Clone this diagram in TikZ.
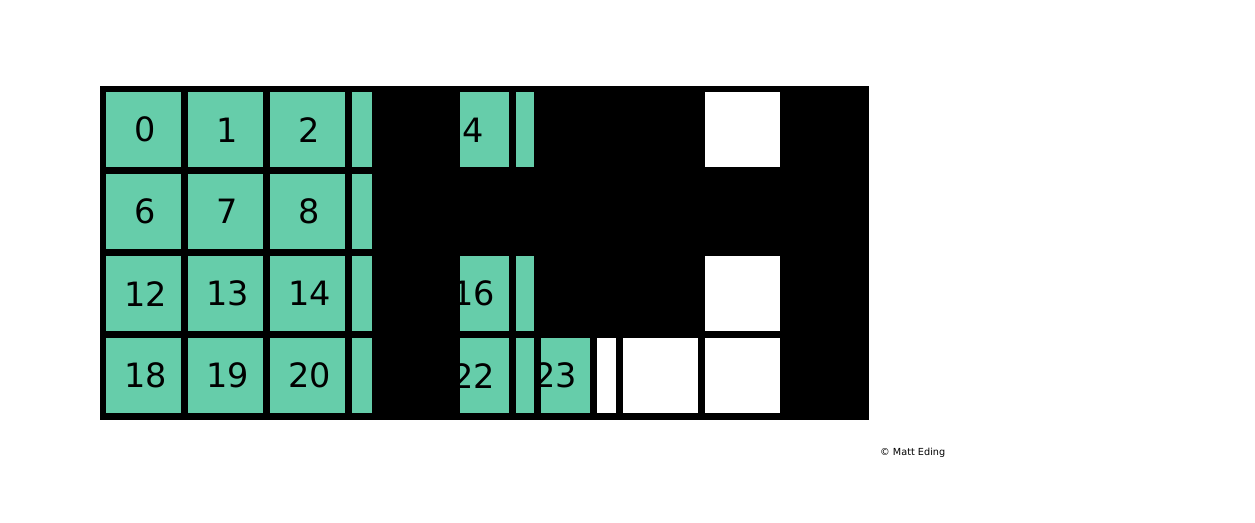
\documentclass[tikz,border=0pt]{standalone}
\usepackage{fontspec}
\setmainfont{DejaVu Sans}
\definecolor{aqua}{RGB}{102,205,170}
\begin{document}
\begin{tikzpicture}[x=1pt,y=-1pt,
  greencell/.style={fill=aqua},
  whitecell/.style={fill=white},
  num/.style={font=\fontsize{33.5}{40}\selectfont, inner sep=0pt, text=black},
  credit/.style={font=\fontsize{9.7}{11}\selectfont, inner sep=0pt, anchor=base west, text=black}]
\useasboundingbox (0,0) rectangle (1255,522);
\fill[white] (0,0) rectangle (1255,522);
\fill[black] (99.5,86) rectangle (868.5,419.5);
% rows: top/bottom
\foreach \t/\b in {92.3/167.3, 173.6/249, 255.6/330.8, 337.6/413}{
  \fill[greencell] (105.5,\t) rectangle (181,\b);
  \fill[greencell] (187.5,\t) rectangle (263.3,\b);
  \fill[greencell] (269.5,\t) rectangle (345,\b);
  \fill[greencell] (351.5,\t) rectangle (371.6,\b);
}
% rows 0, 2, 3: cells of column 4 and narrow column 5
\foreach \t/\b in {92.3/167.3, 255.6/330.8, 337.6/413}{
  \fill[greencell] (460,\t) rectangle (509.3,\b);
  \fill[greencell] (515.6,\t) rectangle (534,\b);
  \fill[whitecell] (705,\t) rectangle (780,\b);
}
% row 3 extras
\fill[greencell] (540.5,337.6) rectangle (590.3,413);
\fill[whitecell] (596.7,337.6) rectangle (616,413);
\fill[whitecell] (622.7,337.6) rectangle (698.3,413);
% numbers
\node[num] (n0)  at (145,129.8) {0};
\node[num] (n1)  at (227,129.8) {1};
\node[num] (n2)  at (309,129.8) {2};
\node[num] (n4)  at (473,129.8) {4};
\node[num] (n6)  at (145,211.3) {6};
\node[num] (n7)  at (227,211.3) {7};
\node[num] (n8)  at (309,211.3) {8};
\node[num] (n12) at (145.5,293.6) {12};
\node[num] (n13) at (227.5,293.6) {13};
\node[num] (n14) at (309.5,293.6) {14};
\node[num] (n16) at (473.5,293.6) {16};
\node[num] (n18) at (145.5,375.6) {18};
\node[num] (n19) at (227.5,375.6) {19};
\node[num] (n20) at (309.5,375.6) {20};
\node[num] (n22) at (473.5,375.6) {22};
\node[num] (n23) at (555.5,375.6) {23};
% black bars that sit over the text
\fill[black] (534,337.6) rectangle (540.5,413);
\fill[black] (371.6,255.6) rectangle (460,413);
\fill[black] (371.6,92.3) rectangle (460,167.3);
\node[credit] (cr) at (880,455.6) {© Matt Eding};
\end{tikzpicture}
\end{document}
